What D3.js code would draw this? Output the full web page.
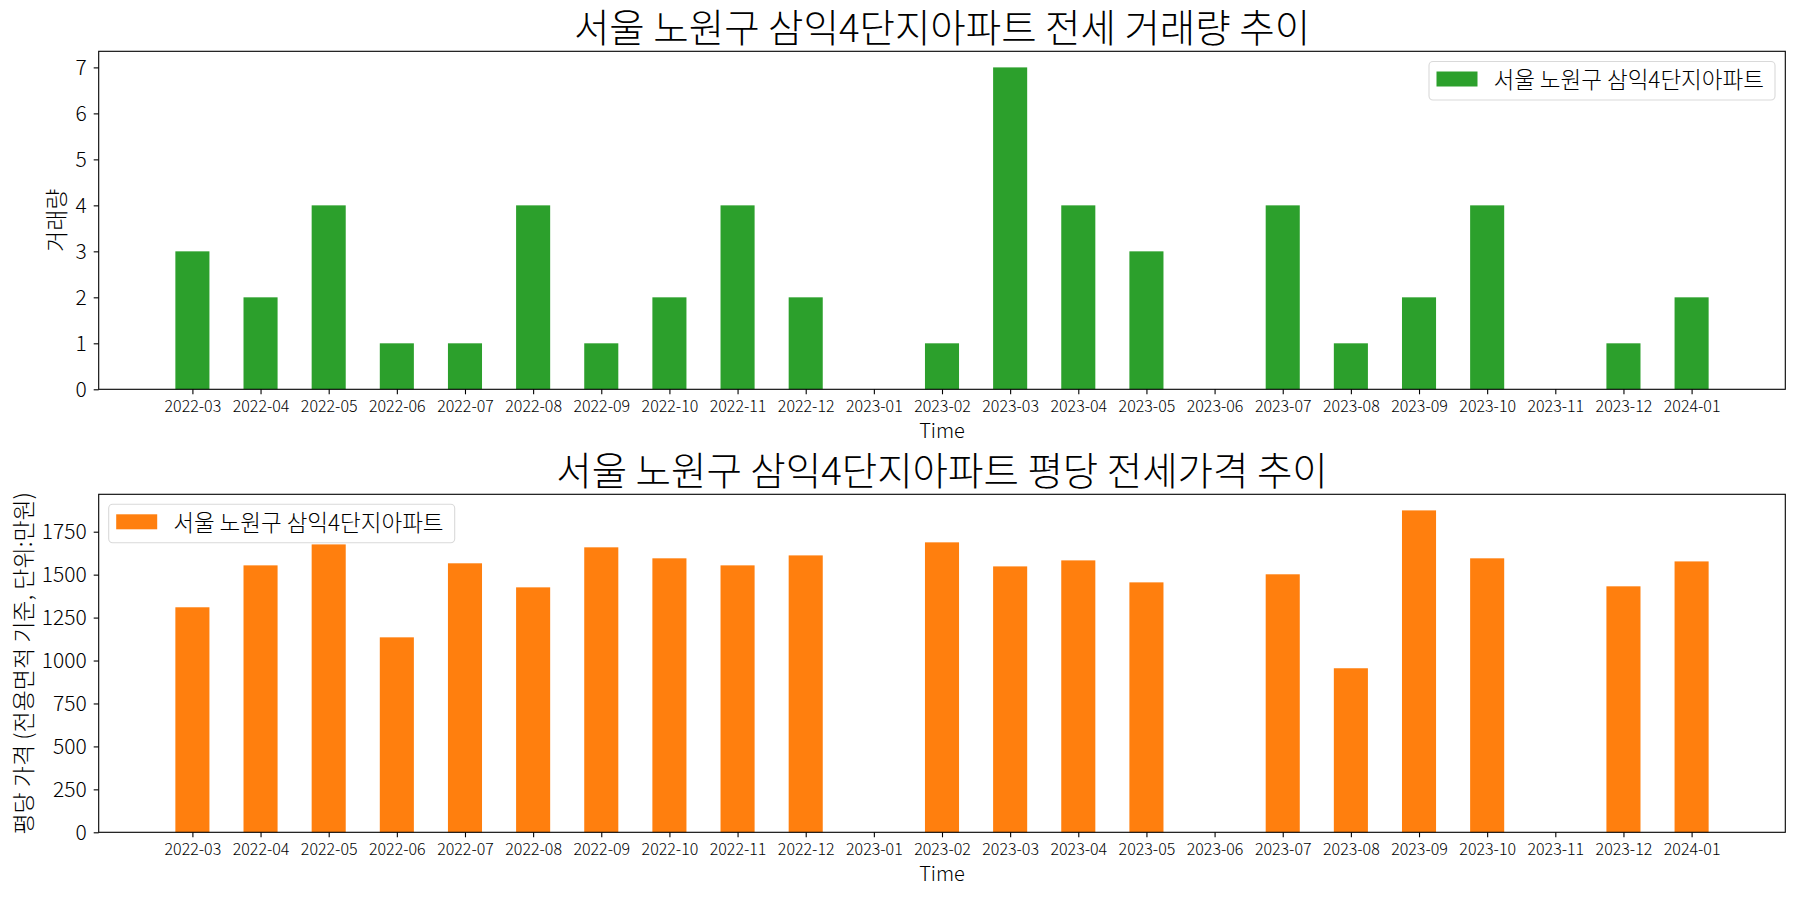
<!DOCTYPE html>
<html><head><meta charset="utf-8">
<script src="https://cdn.jsdelivr.net/npm/d3@7"></script>
<style>
body{margin:0;background:#fff;}
text{font-family:"Noto Sans CJK KR","Noto Sans",sans-serif;fill:#000;font-weight:300;}
</style></head>
<body><svg id="c" width="1800" height="900"></svg>
<script>
const months = ["2022-03","2022-04","2022-05","2022-06","2022-07","2022-08","2022-09","2022-10","2022-11","2022-12","2023-01","2023-02","2023-03","2023-04","2023-05","2023-06","2023-07","2023-08","2023-09","2023-10","2023-11","2023-12","2024-01"];
const volumes = [3,2,4,1,1,4,1,2,4,2,0,1,7,4,3,0,4,1,2,4,0,1,2];
const prices = [1310,1554,1676,1135,1566,1426,1659,1595,1554,1612,null,1688,1548,1583,1455,null,1502,955,1874,1595,null,1432,1577];
const volTicks = [0,1,2,3,4,5,6,7];
const priceTicks = [0,250,500,750,1000,1250,1500,1750];
const seriesName = "서울 노원구 삼익4단지아파트";
const title1 = "서울 노원구 삼익4단지아파트 전세 거래량 추이";
const title2 = "서울 노원구 삼익4단지아파트 평당 전세가격 추이";
const ylabel1 = "거래량";
const ylabel2 = "평당 가격 (전용면적 기준, 단위:만원)";
const xlabel = "Time";

const svg = d3.select("#c");
const L = 98.7, R = 1785.3;
const n = months.length;
const x = d3.scaleLinear().domain([-1.375, n - 1 + 1.375]).range([L, R]);
const FONT = "'Noto Sans CJK KR',sans-serif";

function panel(o){
  const g = svg.append("g");
  const y = d3.scaleLinear().domain([0, o.ymax]).range([o.bottom, o.top]);
  const data = o.values.map((v,i)=>({v,i})).filter(d=>d.v!==null && d.v>0);
  g.selectAll("rect.bar").data(data).enter().append("rect")
    .attr("x", d=>x(d.i-0.25)).attr("width", d=>x(d.i+0.25)-x(d.i-0.25))
    .attr("y", d=>y(d.v)).attr("height", d=>y(0)-y(d.v))
    .attr("fill", o.color);
  const xa = g.append("g").attr("transform",`translate(0,${o.bottom})`)
    .call(d3.axisBottom(x).tickValues(d3.range(n)).tickFormat(i=>months[i]).tickSize(5).tickPadding(6).tickSizeOuter(0));
  xa.select(".domain").remove();
  xa.selectAll("text").attr("font-size","16px").style("font-family",FONT).style("font-weight",300);
  xa.selectAll("line").attr("stroke","#000").attr("stroke-width",1.1);
  const ya = g.append("g").attr("transform",`translate(${L},0)`)
    .call(d3.axisLeft(y).tickValues(o.ticks).tickFormat(d3.format("d")).tickSize(5).tickPadding(7).tickSizeOuter(0));
  ya.select(".domain").remove();
  ya.selectAll("text").attr("font-size","21px").style("font-family",FONT).style("font-weight",300);
  ya.selectAll("line").attr("stroke","#000").attr("stroke-width",1.1);
  g.append("rect").attr("x",L).attr("y",o.top).attr("width",R-L).attr("height",o.bottom-o.top)
    .attr("fill","none").attr("stroke","#000").attr("stroke-width",1.1);
  g.append("text").attr("x",(L+R)/2).attr("y",o.top-9).attr("text-anchor","middle")
    .attr("font-size","38.5px").text(o.title);
  g.append("text").attr("x",(L+R)/2).attr("y",o.bottom+48.5).attr("text-anchor","middle")
    .attr("font-size","20px").text(xlabel);
  g.append("text").attr("transform",`translate(${o.ylx},${(o.top+o.bottom)/2}) rotate(-90)`)
    .attr("text-anchor","middle").attr("font-size","23px").text(o.ylabel);
  const lg = g.append("g");
  lg.append("rect").attr("x",o.lx).attr("y",o.ly).attr("width",346).attr("height",38.5).attr("rx",4)
    .attr("fill","#fff").attr("fill-opacity",0.8).attr("stroke","#d9d9d9").attr("stroke-width",1.1);
  lg.append("rect").attr("x",o.lx+7.5).attr("y",o.ly+10).attr("width",41).attr("height",15).attr("fill",o.color);
  lg.append("text").attr("x",o.lx+64.5).attr("y",o.ly+26.5).attr("font-size","22.5px").text(seriesName);
}

panel({values:volumes, ymax:7*1.05, ticks:volTicks, top:51.3, bottom:389.3, color:"#2ca02c",
  title:title1, ylabel:ylabel1, ylx:65, lx:1429, ly:61.5});
panel({values:prices, ymax:d3.max(prices)*1.05, ticks:priceTicks, top:494.3, bottom:832.3, color:"#ff7f0e",
  title:title2, ylabel:ylabel2, ylx:32, lx:108.7, ly:504.3});
</script></body></html>
